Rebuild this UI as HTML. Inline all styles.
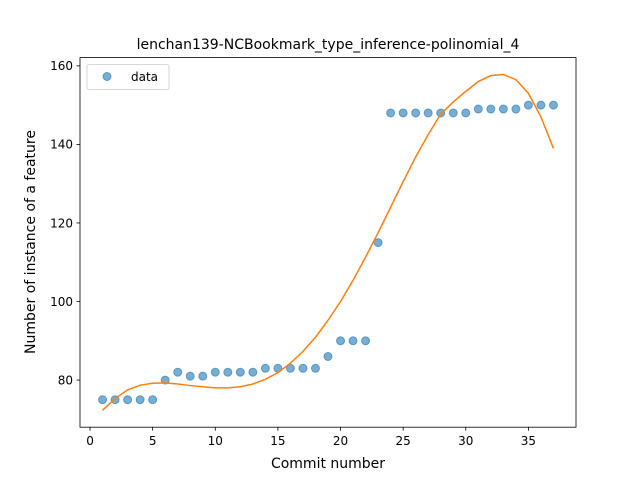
<!DOCTYPE html>
<html><head><meta charset="utf-8"><style>
body{margin:0;background:#fff;}
svg{display:block;font-family:"DejaVu Sans","Liberation Sans",sans-serif;}
</style></head><body>
<svg id="chart" width="640" height="480" xmlns="http://www.w3.org/2000/svg">
<rect width="640" height="480" fill="#fff"/>
<text x="328" y="49" text-anchor="middle" font-size="14">lenchan139-NCBookmark_type_inference-polinomial_4</text>
<g id="plot"></g>
<rect x="80" y="57.6" width="496" height="369.6" fill="none" stroke="#000" stroke-width="0.8"/>
<text x="328" y="468" text-anchor="middle" font-size="14">Commit number</text>
<text transform="translate(35,242) rotate(-90)" text-anchor="middle" font-size="14">Number of instance of a feature</text>
<g>
<rect x="87" y="64.6" width="82" height="25" rx="2" fill="#fff" stroke="#ccc" stroke-width="0.8"/>
<circle cx="107" cy="76.5" r="4" fill="#1f77b4" fill-opacity="0.6" stroke="#1f77b4" stroke-opacity="0.6"/>
<text x="131" y="81" font-size="12">data</text>
</g>
</svg>
<script>
const xData=[1,2,3,4,5,6,7,8,9,10,11,12,13,14,15,16,17,18,19,20,21,22,23,24,25,26,27,28,29,30,31,32,33,34,35,36,37];
const yData=[75,75,75,75,75,80,82,81,81,82,82,82,82,83,83,83,83,83,86,90,90,90,115,148,148,148,148,148,148,148,149,149,149,149,150,150,150];
const yFit=[72.3,75.3,77.5,78.7,79.2,79.3,79,78.6,78.3,78,78,78.3,79,80.2,81.9,84.3,87.3,90.9,95.2,100,105.4,111.3,117.5,124,130.5,136.8,142.5,147.7,150.8,153.5,156,157.5,157.8,156.5,153,147,139];
const xTicks=[0,5,10,15,20,25,30,35];
const yTicks=[80,100,120,140,160];
const NS="http://www.w3.org/2000/svg";
const sx=v=>80+(v+0.8)*496/39.6;
const sy=v=>427.2-(v-68)*369.6/(162.1-68);
const g=document.getElementById('plot');
function mk(t,a){const e=document.createElementNS(NS,t);for(const k in a)e.setAttribute(k,a[k]);g.appendChild(e);return e;}
xTicks.forEach(t=>{
 const l=mk('line',{x1:sx(t),x2:sx(t),y1:427.2,y2:430.7,stroke:'#000','stroke-width':0.8});
 
 
 const tx=mk('text',{x:sx(t),y:445,'text-anchor':'middle','font-size':12});
 tx.textContent=t;
 
 
});
yTicks.forEach(t=>{
 const l=mk('line',{x1:76.5,x2:80,y1:sy(t),y2:sy(t),stroke:'#000','stroke-width':0.8});
 
 
 const tx=mk('text',{x:73,y:sy(t)+4.3,'text-anchor':'end','font-size':12});
 tx.textContent=t;
 
 
});
xData.forEach((x,i)=>{
 const c=mk('circle',{cx:sx(x),cy:sy(yData[i]),r:4,fill:'#1f77b4','fill-opacity':0.6,stroke:'#1f77b4','stroke-opacity':0.6});
 
 
});
const pts=yFit.map((v,i)=>sx(xData[i])+','+sy(v)).join(' ');
const pl=mk('polyline',{points:pts,fill:'none',stroke:'#ff7f0e','stroke-width':1.5});


</script>
</body></html>
